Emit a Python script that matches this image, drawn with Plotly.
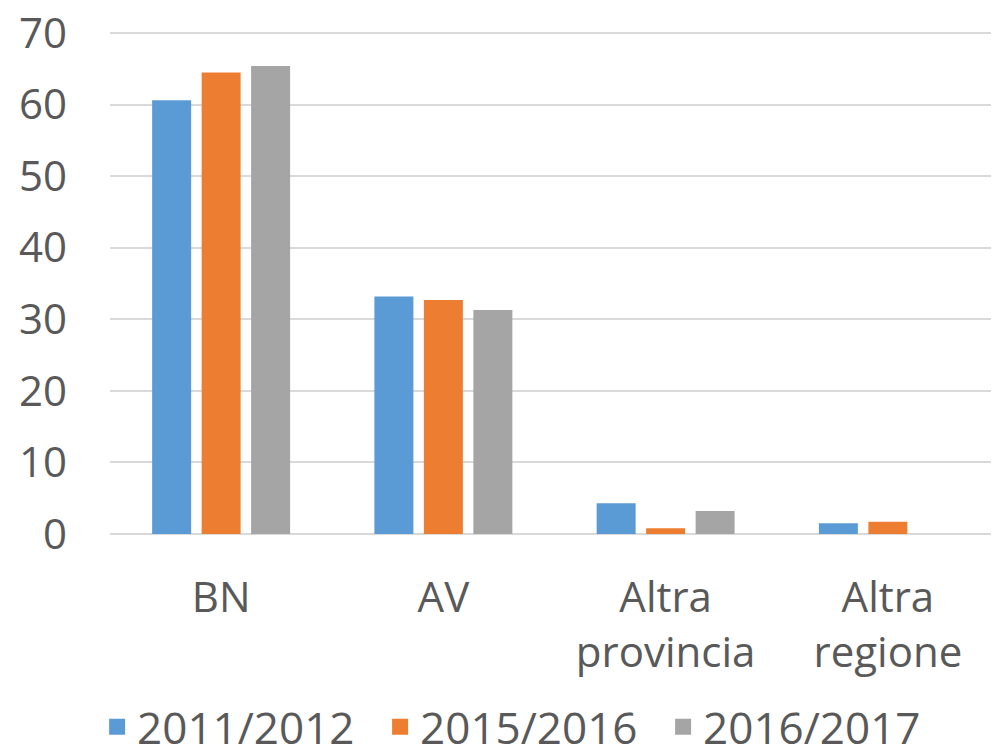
import plotly.graph_objects as go

categories = ["BN", "AV", "Altra<br>provincia", "Altra<br>regione"]
series_names = ["2011/2012", "2015/2016", "2016/2017"]
v_2011_2012 = [60.6, 33.2, 4.3, 1.5]
v_2015_2016 = [64.5, 32.7, 0.8, 1.7]
v_2016_2017 = [65.4, 31.3, 3.2, None]
colors = ["#5B9BD5", "#ED7D31", "#A5A5A5"]
y_ticks = [0, 10, 20, 30, 40, 50, 60, 70]

font_family = "Open Sans, Lato, sans-serif"
text_color = "#595959"

fig = go.Figure()
for name, vals, col in zip(series_names, [v_2011_2012, v_2015_2016, v_2016_2017], colors):
    fig.add_trace(go.Bar(x=categories, y=vals, name=name, showlegend=False,
                         marker=dict(color=col, line=dict(width=0))))
# legend entries with larger square icons
for name, col in zip(series_names, colors):
    fig.add_trace(go.Scatter(x=[None], y=[None], mode="markers", name=name,
                             marker=dict(symbol="square", size=26, color=col)))

fig.update_layout(
    width=999, height=756,
    margin=dict(l=102, r=8, t=24, b=230, autoexpand=False),
    paper_bgcolor="white", plot_bgcolor="white",
    barmode="group", bargap=0.332, bargroupgap=0.212,
    font=dict(family=font_family, size=42, color=text_color),
    showlegend=True,
    legend=dict(orientation="h", x=0.463, xanchor="center",
                y=-0.385, yanchor="middle",
                font=dict(size=44, color=text_color), itemwidth=30, itemsizing="trace",
                entrywidth=238, traceorder="normal"),
    xaxis=dict(showgrid=False, showline=False, ticks="", ticklabelstandoff=35,
               automargin=False, tickfont=dict(size=42, color=text_color)),
    yaxis=dict(range=[0, 70.15], tickvals=y_ticks, showgrid=True, gridcolor="#D9D9D9",
               gridwidth=1.5, zeroline=True, zerolinecolor="#D9D9D9", zerolinewidth=2,
               showline=False, ticks="", ticklabelstandoff=42, automargin=False,
               ticklabeloverflow="allow",
               tickfont=dict(size=42, color=text_color)),
)

fig.write_html("out.html")
